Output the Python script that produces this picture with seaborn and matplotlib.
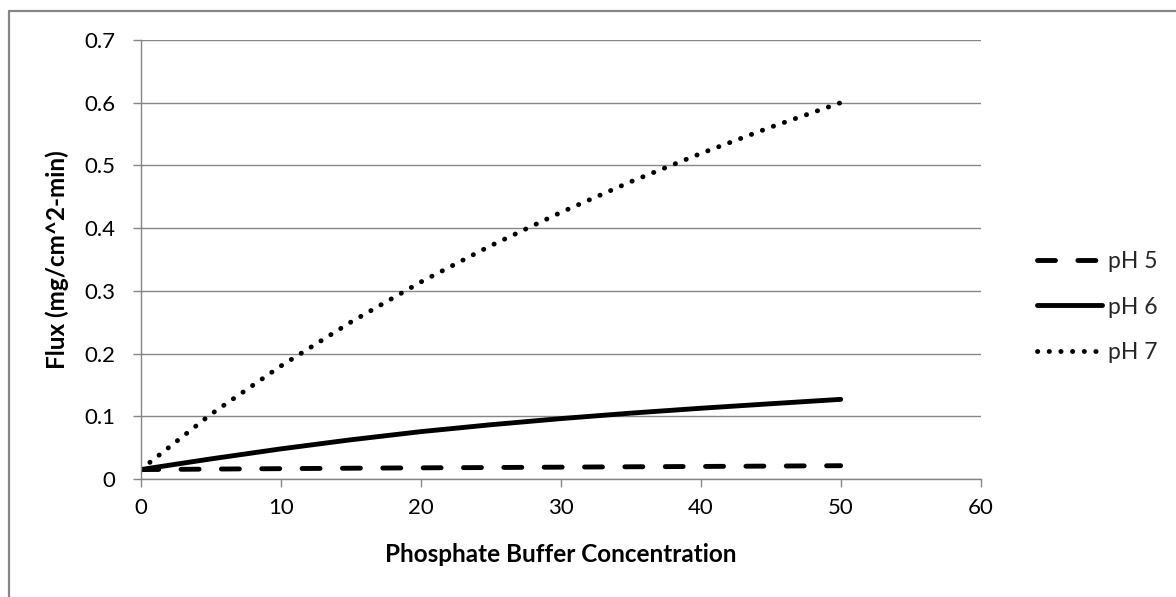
import matplotlib
matplotlib.use("Agg")
import matplotlib.pyplot as plt
from matplotlib.lines import Line2D
import pandas as pd
import seaborn as sns

# Flux measurements vs. phosphate buffer concentration
concentration = [0, 5, 10, 15, 20, 25, 30, 35, 40, 45, 50]
flux_ph5 = [0.015, 0.0158, 0.0165, 0.0172, 0.0178, 0.0183, 0.0189, 0.0195, 0.0200, 0.0206, 0.0212]
flux_ph6 = [0.015, 0.032, 0.048, 0.0625, 0.0755, 0.0865, 0.0963, 0.1050, 0.1128, 0.1200, 0.1270]
flux_ph7 = [0.015, 0.103, 0.180, 0.250, 0.314, 0.372, 0.425, 0.474, 0.519, 0.561, 0.600]
series_labels = ["pH 5", "pH 6", "pH 7"]

x_ticks = [0, 10, 20, 30, 40, 50, 60]
y_ticks = [0, 0.1, 0.2, 0.3, 0.4, 0.5, 0.6, 0.7]
y_tick_labels = ["0", "0.1", "0.2", "0.3", "0.4", "0.5", "0.6", "0.7"]

x_title = "Phosphate Buffer Concentration"
y_title = "Flux (mg/cm^2-min)"

frames = []
for label, values in zip(series_labels, [flux_ph5, flux_ph6, flux_ph7]):
    frames.append(pd.DataFrame({"conc": concentration, "flux": values, "series": label}))
df = pd.concat(frames, ignore_index=True)

sns.set_theme(style="white")
plt.rcParams["font.family"] = ["Lato", "DejaVu Sans"]

GRAY = "#868686"
W, H = 1176, 597
fig = plt.figure(figsize=(W / 100, H / 100), dpi=100)
left, right, bottom, top = 140.7, 980.7, 479.0, 40.0
ax = fig.add_axes([left / W, 1 - bottom / H, (right - left) / W, (bottom - top) / H])

line_styles = {
    "pH 5": (0, (3.7, 4.6)),
    "pH 6": "-",
    "pH 7": (0, (0.05, 2.35)),
}
LW = 3.5
for label in series_labels:
    sub = df[df["series"] == label]
    sns.lineplot(data=sub, x="conc", y="flux", ax=ax, color="black", lw=LW,
                 label=label, legend=False, sort=True)
    ln = ax.lines[-1]
    ln.set_linestyle(line_styles[label])
    ln.set_dash_capstyle("round")
    ln.set_solid_capstyle("round")
    ln.set_solid_joinstyle("round")

ax.set_xlim(0, 60)
ax.set_ylim(0, 0.7)
ax.set_xticks(x_ticks)
ax.set_xticklabels([str(t) for t in x_ticks])
ax.set_yticks(y_ticks)
ax.set_yticklabels(y_tick_labels)

ax.yaxis.grid(True, color=GRAY, lw=1.0)
ax.xaxis.grid(False)
ax.set_axisbelow(True)
for side in ["top", "right"]:
    ax.spines[side].set_visible(False)
for side in ["left", "bottom"]:
    ax.spines[side].set_color(GRAY)
    ax.spines[side].set_linewidth(1.0)

ax.tick_params(axis="both", which="major", direction="out", length=6, width=1.0,
               color=GRAY, labelsize=16, labelcolor="black")
ax.tick_params(axis="y", pad=12, left=True)
ax.tick_params(axis="x", pad=7.5, bottom=True)

ax.set_xlabel(x_title, fontsize=17.5, fontweight="bold", color="black")
ax.set_ylabel(y_title, fontsize=17.5, fontweight="bold", color="black")
ax.xaxis.label.set_va("center")
ax.yaxis.label.set_va("center")
ax.xaxis.set_label_coords(0.5, (bottom - 555) / (bottom - top))
ax.yaxis.set_label_coords((57 - left) / (right - left), 0.5)

handles = [Line2D([0], [0], color="black", lw=LW, linestyle=line_styles[l],
                  dash_capstyle="round", solid_capstyle="round") for l in series_labels]
ax.legend(handles, series_labels, loc="center left",
          bbox_to_anchor=(1037 / W, 1 - 307 / H), bbox_transform=fig.transFigure,
          frameon=False, fontsize=16.5, handlelength=2.85, handletextpad=0.25,
          labelspacing=1.05, borderpad=0, borderaxespad=0)

# outer chart frame (left and top edges)
fig.add_artist(Line2D([8.5 / W, 8.5 / W], [0, 1 - 10.5 / H], color=GRAY, lw=1.6,
                      transform=fig.transFigure))
fig.add_artist(Line2D([8.5 / W, 1], [1 - 10.5 / H, 1 - 10.5 / H], color=GRAY, lw=1.6,
                      transform=fig.transFigure))

fig.savefig("out.png", dpi=100, facecolor="white")
